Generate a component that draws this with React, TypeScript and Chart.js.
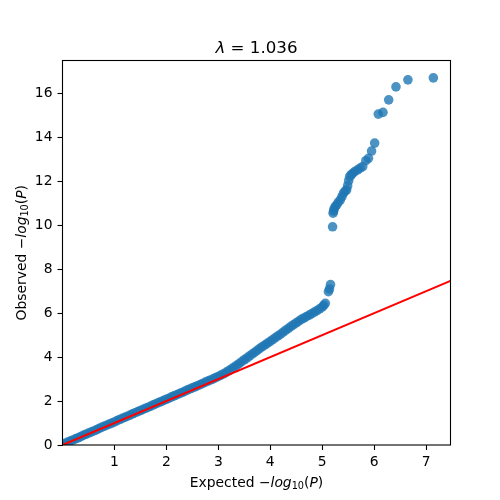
import React, { useEffect, useRef } from "react";
import { Chart, registerables } from "chart.js";

Chart.register(...registerables);

// Dense band of expected vs observed -log10(P)
const bandX = [
  0.0, 0.05, 0.1, 0.15, 0.2, 0.25, 0.3, 0.35, 0.4, 0.45, 0.5, 0.55, 0.6, 0.65, 0.7, 0.75, 0.8, 0.85, 0.9, 0.95,
  1.0, 1.05, 1.1, 1.15, 1.2, 1.25, 1.3, 1.35, 1.4, 1.45, 1.5, 1.55, 1.6, 1.65, 1.7, 1.75, 1.8, 1.85, 1.9, 1.95,
  2.0, 2.05, 2.1, 2.15, 2.2, 2.25, 2.3, 2.35, 2.4, 2.45, 2.5, 2.55, 2.6, 2.65, 2.7, 2.75, 2.8, 2.85, 2.9, 2.95,
  3.0, 3.05, 3.1, 3.15, 3.2, 3.25, 3.3, 3.35, 3.4, 3.45, 3.5, 3.55, 3.6, 3.65, 3.7, 3.75, 3.8, 3.85, 3.9, 3.95,
  4.0, 4.05, 4.1, 4.15, 4.2, 4.25, 4.3, 4.35, 4.4, 4.45, 4.5, 4.55, 4.6, 4.65, 4.7, 4.75, 4.8, 4.85, 4.9, 4.95,
  5.0, 5.03, 5.06,
];
const bandY = [
  0.03, 0.08, 0.13, 0.18, 0.23, 0.28, 0.33, 0.38, 0.44, 0.49, 0.54, 0.59, 0.64, 0.69, 0.75, 0.8, 0.85, 0.9, 0.95, 1.0,
  1.05, 1.11, 1.16, 1.21, 1.26, 1.31, 1.36, 1.42, 1.47, 1.52, 1.57, 1.62, 1.67, 1.72, 1.77, 1.83, 1.88, 1.93, 1.98, 2.03,
  2.08, 2.13, 2.19, 2.24, 2.29, 2.34, 2.39, 2.44, 2.5, 2.55, 2.6, 2.65, 2.7, 2.75, 2.8, 2.86, 2.91, 2.96, 3.01, 3.07,
  3.12, 3.18, 3.24, 3.31, 3.38, 3.46, 3.54, 3.62, 3.7, 3.79, 3.88, 3.96, 4.05, 4.14, 4.22, 4.31, 4.4, 4.48, 4.56, 4.64,
  4.72, 4.8, 4.89, 4.97, 5.05, 5.14, 5.23, 5.31, 5.4, 5.48, 5.56, 5.64, 5.72, 5.78, 5.85, 5.91, 5.98, 6.05, 6.12, 6.2,
  6.28, 6.36, 6.45,
];

// Top hits
const tailX = [
  5.12, 5.14, 5.16, 5.2, 5.21, 5.22, 5.23, 5.25, 5.28, 5.31, 5.35, 5.38, 5.41, 5.44, 5.47, 5.49, 5.51, 5.53, 5.56,
  5.59, 5.63, 5.68, 5.73, 5.78, 5.84, 5.89, 5.95, 6.01, 6.08, 6.17, 6.28, 6.42, 6.65, 7.14,
];
const tailY = [
  6.98, 7.1, 7.3, 9.93, 10.55, 10.65, 10.75, 10.85, 10.93, 11.05, 11.16, 11.3, 11.46, 11.55, 11.61, 11.8, 12.03, 12.22,
  12.3, 12.37, 12.45, 12.52, 12.6, 12.67, 12.94, 13.05, 13.38, 13.74, 15.06, 15.14, 15.71, 16.3, 16.62, 16.71,
];

const refLineX = [0, 7.47];
const xTickValues = [1, 2, 3, 4, 5, 6, 7];
const yTickValues = [0, 2, 4, 6, 8, 10, 12, 14, 16];
const lambdaValue = "1.036";

type Seg = { t: string; italic?: boolean; sub?: boolean };

function drawRich(
  ctx: CanvasRenderingContext2D,
  segs: Seg[],
  cx: number,
  baseline: number,
  size: number,
  rotate: boolean
) {
  const fontOf = (s: Seg) =>
    `${s.italic ? "italic " : ""}${s.sub ? size * 0.7 : size}px 'DejaVu Sans'`;
  ctx.save();
  ctx.fillStyle = "#000";
  ctx.textBaseline = "alphabetic";
  ctx.textAlign = "left";
  const widths = segs.map((s) => {
    ctx.font = fontOf(s);
    return ctx.measureText(s.t).width;
  });
  const total = widths.reduce((a, b) => a + b, 0);
  if (rotate) {
    ctx.translate(baseline, cx);
    ctx.rotate(-Math.PI / 2);
  } else {
    ctx.translate(cx, baseline);
  }
  let x = -total / 2;
  segs.forEach((s, i) => {
    ctx.font = fontOf(s);
    ctx.fillText(s.t, x, s.sub ? size * 0.2 : 0);
    x += widths[i];
  });
  ctx.restore();
}

const decorPlugin = {
  id: "decor",
  afterDraw(chart: any) {
    const { ctx, chartArea } = chart;
    const { left, right, top, bottom } = chartArea;
    ctx.save();
    ctx.strokeStyle = "#000";
    ctx.lineWidth = 1.1;
    ctx.strokeRect(left, top, right - left, bottom - top);
    ctx.restore();
    const cx = (left + right) / 2;
    const cy = (top + bottom) / 2;
    drawRich(ctx, [{ t: "λ", italic: true }, { t: " = " + lambdaValue }], cx, 52.5, 16.67, false);
    const lab = (word: string): Seg[] => [
      { t: word + " −" },
      { t: "log", italic: true },
      { t: "10", sub: true },
      { t: "(" },
      { t: "P", italic: true },
      { t: ")" },
    ];
    drawRich(ctx, lab("Expected"), cx, 486.5, 13.89, false);
    drawRich(ctx, lab("Observed"), cy, 25.5, 13.89, true);
  },
};

export default function App() {
  const ref = useRef<HTMLCanvasElement>(null);
  useEffect(() => {
    const points = [
      ...bandX.map((x, i) => ({ x, y: bandY[i] })),
      ...tailX.map((x, i) => ({ x, y: tailY[i] })),
    ];
    const tickFont = { family: "'DejaVu Sans'", size: 13.89 };
    const chart = new Chart(ref.current as HTMLCanvasElement, {
      type: "scatter",
      data: {
        datasets: [
          {
            type: "line",
            data: refLineX.map((v) => ({ x: v, y: v })),
            borderColor: "#ff0000",
            borderWidth: 2.1,
            pointRadius: 0,
            showLine: true,
            clip: 0,
          } as any,
          {
            data: points,
            backgroundColor: "rgba(31,119,180,0.8)",
            borderWidth: 0,
            pointRadius: 4.8,
            clip: 0,
          } as any,
        ],
      },
      options: {
        responsive: false,
        animation: false,
        events: [],
        layout: { padding: { left: 0, top: 60.5, right: 49.5, bottom: 0 } },
        plugins: { legend: { display: false }, tooltip: { enabled: false }, title: { display: false } },
        scales: {
          x: {
            type: "linear",
            min: 0,
            max: 7.47,
            afterBuildTicks: (s: any) => {
              s.ticks = xTickValues.map((v) => ({ value: v }));
            },
            afterFit: (s: any) => {
              s.height = 55;
            },
            grid: { display: true, drawOnChartArea: false, drawTicks: true, tickLength: 5, tickWidth: 1.1, color: "#000" },
            border: { display: false },
            ticks: { color: "#000", font: tickFont, padding: 4, maxRotation: 0, autoSkip: false },
          },
          y: {
            type: "linear",
            min: 0,
            max: 17.5,
            afterBuildTicks: (s: any) => {
              s.ticks = yTickValues.map((v) => ({ value: v }));
            },
            afterFit: (s: any) => {
              s.width = 62.5;
            },
            grid: { display: true, drawOnChartArea: false, drawTicks: true, tickLength: 5, tickWidth: 1.1, color: "#000" },
            border: { display: false },
            ticks: { color: "#000", font: tickFont, padding: 5, autoSkip: false },
          },
        },
      } as any,
      plugins: [decorPlugin],
    });
    return () => chart.destroy();
  }, []);
  return (
    <div style={{ position: "absolute", left: 0, top: 0, width: 500, height: 500, background: "#fff" }}>
      <canvas ref={ref} width={500} height={500} style={{ width: 500, height: 500, display: "block" }} />
    </div>
  );
}
